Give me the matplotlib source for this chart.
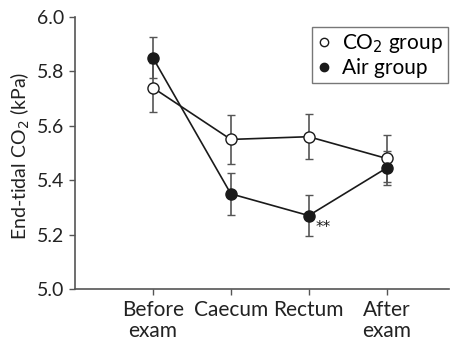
import matplotlib
matplotlib.use("Agg")
import matplotlib.pyplot as plt
from matplotlib.lines import Line2D

categories = ["Before\nexam", "Caecum", "Rectum", "After\nexam"]
co2_mean = [5.74, 5.55, 5.56, 5.48]
co2_err = [0.09, 0.09, 0.083, 0.085]
air_mean = [5.85, 5.35, 5.27, 5.445]
air_err = [0.075, 0.078, 0.075, 0.062]
yticks = [5.0, 5.2, 5.4, 5.6, 5.8, 6.0]

plt.rcParams['font.family'] = ['Lato', 'DejaVu Sans']
fig = plt.figure(figsize=(4.5, 3.41), dpi=100)
ax = fig.add_axes([0.1667, 0.1525, 0.831, 0.7975])

x = list(range(len(categories)))
gray = "#555555"
ax.errorbar(x, co2_mean, yerr=co2_err, fmt='none', ecolor=gray, elinewidth=1.2,
            capsize=3, capthick=1.0, zorder=2)
ax.errorbar(x, air_mean, yerr=air_err, fmt='none', ecolor=gray, elinewidth=1.2,
            capsize=3, capthick=1.0, zorder=2)
ax.plot(x, co2_mean, color='#1a1a1a', lw=1.2, marker='o', markersize=8,
        markerfacecolor='white', markeredgecolor='#1a1a1a', markeredgewidth=1.0, zorder=3)
ax.plot(x, air_mean, color='#1a1a1a', lw=1.2, marker='o', markersize=8,
        markerfacecolor='#1a1a1a', markeredgecolor='#1a1a1a', zorder=4)
ax.annotate("**", xy=(2, air_mean[2]), xytext=(5, -12), textcoords='offset points',
            fontsize=11, color='#1a1a1a', family='DejaVu Sans')

ax.set_xlim(-1, 3.8)
ax.set_ylim(5.0, 6.0)
ax.set_xticks(x)
ax.set_xticklabels(categories, fontsize=15, color='#222222', linespacing=1.05)
ax.set_yticks(yticks)
ax.set_yticklabels([f"{v:.1f}" for v in yticks], fontsize=14, color='#222222')
ax.set_ylabel("End-tidal CO$_2$ (kPa)", fontsize=14, color='#222222')
ax.yaxis.set_label_coords(-0.115, 0.49)
ax.spines['top'].set_visible(False)
ax.spines['right'].set_visible(False)
for s in ['left', 'bottom']:
    ax.spines[s].set_color(gray)
    ax.spines[s].set_linewidth(1.2)
ax.tick_params(axis='both', direction='out', length=4, width=1.0, color=gray, pad=4)

handles = [
    Line2D([], [], linestyle='none', marker='o', markersize=6, markerfacecolor='white',
           markeredgecolor='#1a1a1a'),
    Line2D([], [], linestyle='none', marker='o', markersize=6, markerfacecolor='#1a1a1a',
           markeredgecolor='#1a1a1a'),
]
leg = ax.legend(handles, ["CO$_2$ group", "Air group"], loc='upper right',
                bbox_to_anchor=(0.997, 0.963), fontsize=15, frameon=True, fancybox=False,
                handlelength=0.7, handletextpad=0.5, borderpad=0.25, labelspacing=0.12,
                borderaxespad=0)
leg.get_frame().set_edgecolor(gray)
leg.get_frame().set_linewidth(1.0)

fig.savefig("out.png", dpi=100)
